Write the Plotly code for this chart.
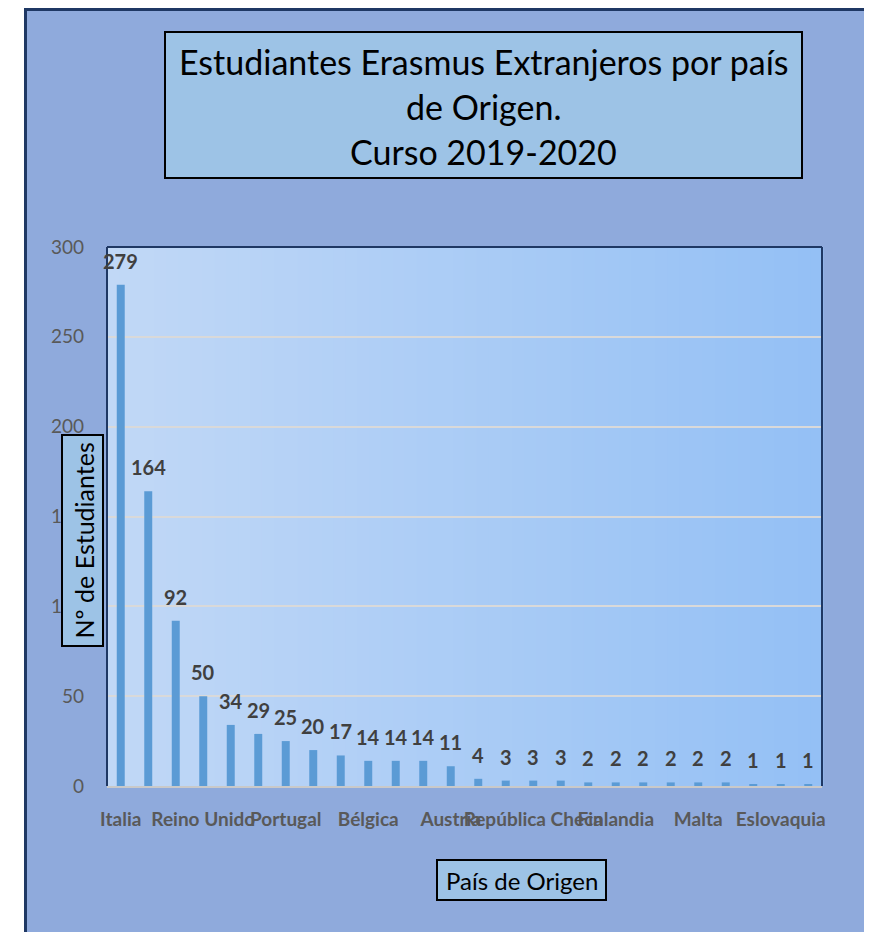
import plotly.graph_objects as go

# ---- data ----
paises = ["Italia", "Francia", "Alemania", "Reino Unido", "Polonia", "Países Bajos",
          "Portugal", "Rumanía", "Irlanda", "Bélgica", "Grecia", "Hungría",
          "Austria", "Dinamarca", "Suecia", "República Checa", "Lituania", "Bulgaria",
          "Finlandia", "Croacia", "Eslovenia", "Malta", "Letonia", "Noruega",
          "Eslovaquia", "Estonia"]
estudiantes = [279, 164, 92, 50, 34, 29, 25, 20, 17, 14, 14, 14, 11, 4, 3, 3, 3,
               2, 2, 2, 2, 2, 2, 1, 1, 1]
etiquetas_visibles = ["Italia", "Reino Unido", "Portugal", "Bélgica", "Austria",
                      "República Checa", "Finlandia", "Malta", "Eslovaquia"]
y_ticks = [0, 50, 100, 150, 200, 250, 300]

O = 8  # page body margin
W, H = 872 - O, 932 - O
L, R, T, B = 107, 822, 247, 786  # plot area in page pixels
FONT = "Lato"

def px(x):
    return (x - L) / (R - L)

def py(y):
    return (B - y) / (B - T)

fig = go.Figure()
fig.add_trace(go.Bar(
    x=paises, y=estudiantes,
    marker=dict(color="#5b9bd5", line=dict(width=0)),
    hoverinfo="x+y",
))

shapes = []
# outer chart area
shapes.append(dict(type="rect", xref="paper", yref="paper", layer="below",
                   x0=px(25.5), x1=px(900), y0=py(960), y1=py(9.5),
                   fillcolor="#8faadc", line=dict(color="#1f3864", width=3)))
# gradient plot background
n = 60
c0 = (193, 216, 246)
c1 = (148, 192, 245)
for i in range(n):
    t = i / (n - 1)
    col = "rgb(%d,%d,%d)" % tuple(round(a + (b - a) * t) for a, b in zip(c0, c1))
    shapes.append(dict(type="rect", xref="paper", yref="paper", layer="below",
                       x0=i / n, x1=(i + 1) / n + 0.002, y0=0, y1=1,
                       fillcolor=col, line=dict(width=0)))
# plot border (left, top, right) dark
for (x0, y0, x1, y1) in [(0, 0, 0, 1), (0, 1, 1, 1), (1, 1, 1, 0)]:
    shapes.append(dict(type="line", xref="paper", yref="paper", layer="above",
                       x0=x0, y0=y0, x1=x1, y1=y1,
                       line=dict(color="#1f3864", width=2)))
# title box
shapes.append(dict(type="rect", xref="paper", yref="paper", layer="above",
                   x0=px(165), x1=px(802), y0=py(178), y1=py(32),
                   fillcolor="#9dc3e6", line=dict(color="#000000", width=2)))
# y title box
shapes.append(dict(type="rect", xref="paper", yref="paper", layer="above",
                   x0=px(62), x1=px(103), y0=py(646), y1=py(435),
                   fillcolor="#9dc3e6", line=dict(color="#000000", width=2)))
# x title box
shapes.append(dict(type="rect", xref="paper", yref="paper", layer="above",
                   x0=px(437), x1=px(606), y0=py(900), y1=py(860),
                   fillcolor="#9dc3e6", line=dict(color="#000000", width=2)))

annotations = []
title_lines = [("Estudiantes Erasmus Extranjeros por país", 61),
               ("de Origen.", 106),
               ("Curso 2019-2020", 151)]
for txt, yy in title_lines:
    annotations.append(dict(text=txt, xref="paper", yref="paper",
                            x=px(483.5), y=py(yy), xanchor="center", yanchor="middle",
                            showarrow=False,
                            font=dict(family=FONT, size=34, color="#000000")))
annotations.append(dict(text="Nº de Estudiantes", xref="paper", yref="paper",
                        x=px(83), y=py(540.5), xanchor="center", yanchor="middle",
                        textangle=-90, showarrow=False,
                        font=dict(family=FONT, size=25, color="#000000")))
annotations.append(dict(text="País de Origen", xref="paper", yref="paper",
                        x=px(521.5), y=py(880), xanchor="center", yanchor="middle",
                        showarrow=False,
                        font=dict(family=FONT, size=24, color="#000000")))
# data labels
for p, v in zip(paises, estudiantes):
    annotations.append(dict(text="<b>%d</b>" % v, x=p, y=v, xref="x", yref="y",
                            xanchor="center", yanchor="bottom", yshift=10,
                            showarrow=False,
                            font=dict(family=FONT, size=20, color="#404040")))

fig.update_layout(
    width=W, height=H,
    margin=dict(l=L - O, r=W - (R - O), t=T - O, b=H - (B - O), autoexpand=False),
    paper_bgcolor="#ffffff",
    plot_bgcolor="rgba(0,0,0,0)",
    bargap=0.71,
    showlegend=False,
    shapes=shapes,
    annotations=annotations,
    xaxis=dict(
        type="category",
        range=[-0.5, len(paises) - 0.5],
        tickvals=etiquetas_visibles,
        ticktext=["<b>%s</b>" % s for s in etiquetas_visibles],
        tickfont=dict(family=FONT, size=19, color="#595959"),
        ticks="", showgrid=False, zeroline=False,
        showline=True, linecolor="#c9c9c9", linewidth=2,
        ticklabelstandoff=15,
        tickangle=0,
        automargin=False,
    ),
    yaxis=dict(
        range=[0, 300],
        tickvals=y_ticks,
        tickfont=dict(family=FONT, size=19, color="#595959"),
        showgrid=True, gridcolor="#d9d9d9", gridwidth=1.5,
        zeroline=False, showline=False, ticks="",
        ticklabelstandoff=22,
        automargin=False,
    ),
)

fig.write_html("out.html")
